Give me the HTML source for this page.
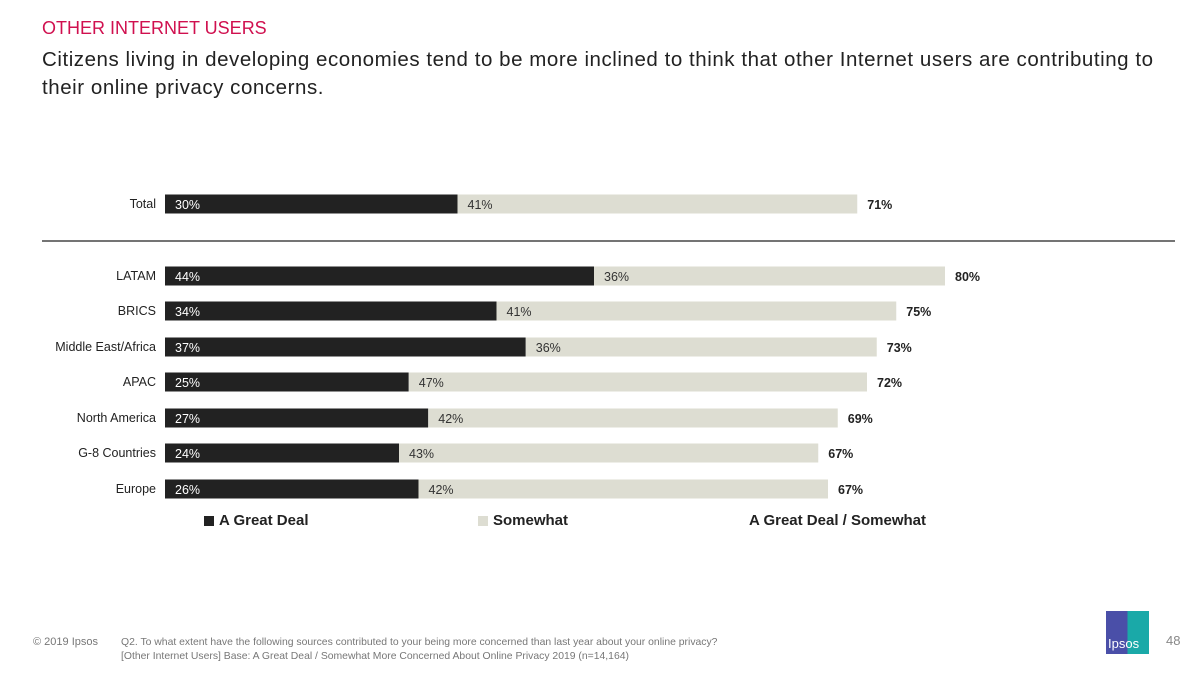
<!DOCTYPE html>
<html><head><meta charset="utf-8"><style>
body{margin:0;width:1200px;height:675px;background:#fff;font-family:"Liberation Sans",sans-serif;position:relative;overflow:hidden}
.t{position:absolute;white-space:nowrap}
</style></head><body>
<div class="t" style="left:42px;top:18px;font-size:18px;color:#d0104f">OTHER INTERNET USERS</div>
<div class="t" style="left:42px;top:46px;font-size:20.5px;letter-spacing:0.55px;color:#222;line-height:28px">Citizens living in developing economies tend to be more inclined to think that other Internet users are contributing to<br>their online privacy concerns.</div>
<svg id="chart" width="1200" height="675" style="position:absolute;left:0;top:0" font-family="Liberation Sans, sans-serif"></svg>
<div class="t" style="left:33px;top:636px;font-size:11px;color:#777">© 2019 Ipsos</div>
<div class="t" style="left:121px;top:636px;font-size:10.4px;color:#777;line-height:14px">Q2. To what extent have the following sources contributed to your being more concerned than last year about your online privacy?<br>[Other Internet Users] Base: A Great Deal / Somewhat More Concerned About Online Privacy 2019 (n=14,164)</div>
<div style="position:absolute;left:1106px;top:611px;width:43px;height:43px;background:linear-gradient(90deg,#4a4fa8 50%,#1aa9a8 50%)"><span style="position:absolute;left:2px;bottom:3px;color:#fff;font-size:13px">Ipsos</span></div>
<div class="t" style="left:1166px;top:633px;font-size:13px;color:#888">48</div>
<script>
const categories=["Total","LATAM","BRICS","Middle East/Africa","APAC","North America","G-8 Countries","Europe"];
const greatDeal=[30,44,34,37,25,27,24,26];
const somewhat=[41,36,41,36,47,42,43,42];
const netLabels=[71,80,75,73,72,69,67,67];
const rowY=[204,276,311,347,382,418,453,489];
const svg=document.getElementById('chart');
const NS='http://www.w3.org/2000/svg';
const x0=165,ppx=9.75;
const xs=v=>x0+v*ppx;
function mk(tag,attrs,txt){const e=document.createElementNS(NS,tag);for(const k in attrs)e.setAttribute(k,attrs[k]);if(txt!=null)e.textContent=txt;svg.appendChild(e);return e;}
const sep=mk('line',{x1:42,x2:1175,y1:241,y2:241,stroke:'#222','stroke-width':1.2});


categories.forEach((c,i)=>{
  const y=rowY[i],h=19;
  const l=mk('text',{x:156,y:y+4,'text-anchor':'end','font-size':12.5,fill:'#222'},c);
  
  
  const b1=mk('rect',{x:x0,y:y-h/2,width:greatDeal[i]*ppx,height:h,fill:'#222'});
  
  
  const b2=mk('rect',{x:xs(greatDeal[i]),y:y-h/2,width:somewhat[i]*ppx,height:h,fill:'#ddddd2'});
  
  
  const t1=mk('text',{x:x0+10,y:y+5,'font-size':12.5,fill:'#fff'},greatDeal[i]+'%');
  
  
  const t2=mk('text',{x:xs(greatDeal[i])+10,y:y+5,'font-size':12.5,fill:'#333'},somewhat[i]+'%');
  
  
  const t3=mk('text',{x:xs(greatDeal[i]+somewhat[i])+10,y:y+5,'font-size':12.5,'font-weight':'bold',fill:'#222'},netLabels[i]+'%');
  
  
});
const leg=[[204,'#222','A Great Deal'],[478,'#ddddd2','Somewhat'],[null,null,'A Great Deal / Somewhat']];
leg.forEach((d,i)=>{
  if(d[0]!==null){const s=mk('rect',{x:d[0],y:516,width:10,height:10,fill:d[1]});
  
  }
  const t=mk('text',{x:d[0]!==null?d[0]+15:749,y:525,'font-size':15,'font-weight':'bold',fill:'#222'},d[2]);
  
  
});
</script>
</body></html>
